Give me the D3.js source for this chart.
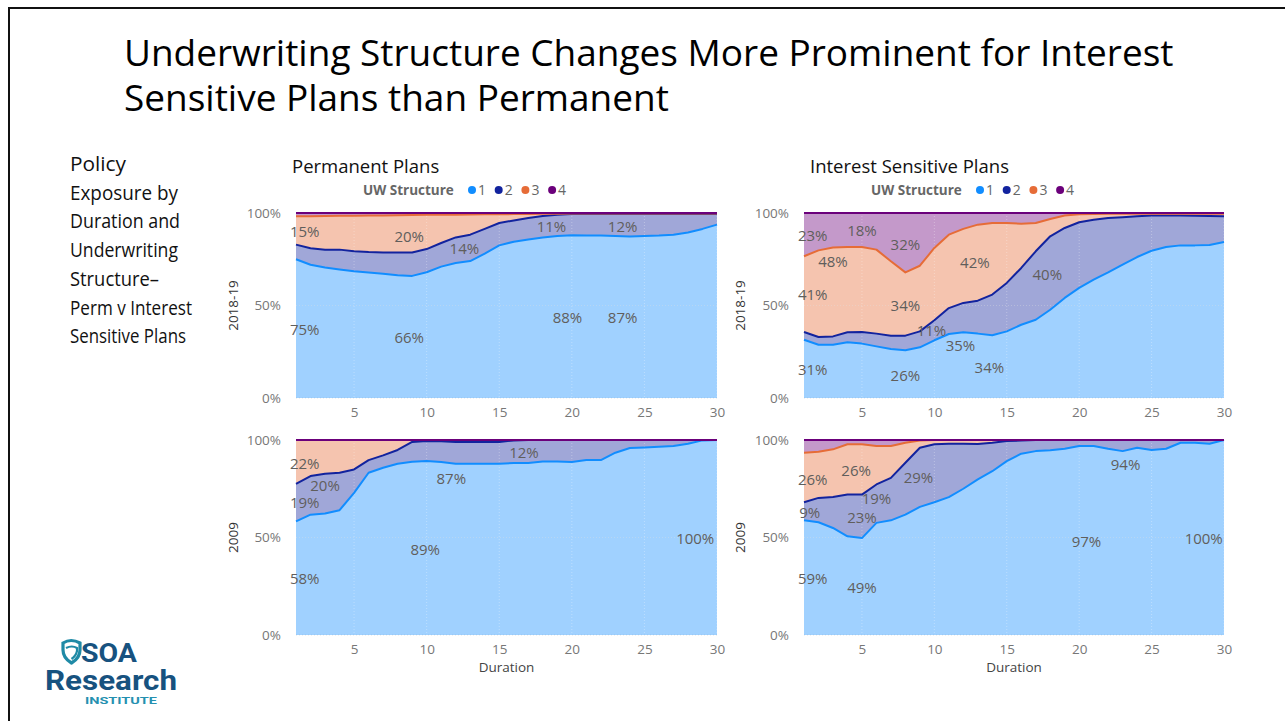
<!DOCTYPE html>
<html><head><meta charset="utf-8">
<script src="https://cdn.jsdelivr.net/npm/d3@7"></script>
<style>body{margin:0;background:#fff;overflow:hidden}svg{display:block}</style>
</head><body>
<svg id="c" width="1285" height="721"></svg>
<script>
// ---------- DATA ----------
const durations = [1,2,3,4,5,6,7,8,9,10,11,12,13,14,15,16,17,18,19,20,21,22,23,24,25,26,27,28,29,30];
const uwStructures = ["1","2","3","4"];
const seriesColors = ["#118DFF","#12239E","#E66C37","#6B007B"];
const yTicks = [0, 50, 100];
const xTicks = [5, 10, 15, 20, 25, 30];

// Permanent Plans 2018-19 (share % by UW structure)
const perm2018_s1 = [75,72,70.5,69.5,68.5,67.8,67.2,66.3,66,68,71,73,74,78,82.5,84.5,85.7,86.8,87.6,88,87.9,87.8,87.6,87.3,87.6,87.8,88.3,89.5,91.4,93.7];
const perm2018_s2 = [7.9,8.9,9.7,10.7,10.8,11.1,11.5,12.3,12.7,12.5,12.8,13.8,14.3,13.4,12.1,11.5,11.6,11.6,11.5,11.5,11.6,11.7,11.9,12.2,11.9,11.7,11.2,10.0,8.1,5.8];
const perm2018_s3 = [15.3,17.4,18.2,18.3,19.2,19.7,20.0,20.2,20.2,18.5,15.3,12.3,10.9,7.9,4.7,3.4,2.2,1.2,0.5,0.2,0.2,0.2,0.2,0.2,0.2,0.2,0.2,0.2,0.2,0.2];
const perm2018_s4 = [1.8,1.7,1.6,1.5,1.5,1.4,1.3,1.2,1.1,1.0,0.9,0.9,0.8,0.7,0.7,0.6,0.5,0.4,0.4,0.3,0.3,0.3,0.3,0.3,0.3,0.3,0.3,0.3,0.3,0.3];

// Interest Sensitive Plans 2018-19
const is2018_s1 = [31.5,28.8,28.8,30.1,29.4,27.9,26.5,25.8,27.4,31.2,34.6,35.5,34.8,33.9,36,39.6,42.3,47.7,54.1,59.5,64,67.9,72.1,76.2,79.6,81.6,82.5,82.5,82.7,84.3];
const is2018_s2 = [4.2,4.2,4.5,5.4,6.3,6.9,7.2,7.9,8.6,10.8,14,15.9,17.8,22,26.2,30.7,37,39.7,37.8,35.5,32.4,29.4,25.6,22,19,17,16.1,16,15.7,13.9];
const is2018_s3 = [40.9,46.8,48.1,46.1,45.9,45.4,40.2,34.2,35.5,39.1,39.7,40,41.1,38.7,32.4,23.9,15.3,9.4,6.7,4.3,3.1,2.3,1.9,1.4,1,1,1,1.1,1.2,1.4];
const is2018_s4 = [23.4,20.2,18.6,18.4,18.4,19.8,26.1,32.1,28.5,18.9,11.7,8.6,6.3,5.4,5.4,5.8,5.4,3.2,1.4,0.7,0.5,0.4,0.4,0.4,0.4,0.4,0.4,0.4,0.4,0.4];

// Permanent Plans 2009
const perm2009_s1 = [58.3,61.7,62.3,64,72.9,83.2,85.8,87.8,88.9,89.2,88.7,87.8,87.8,87.8,87.8,88.2,88.2,89,89,88.7,89.7,89.7,93.5,95.9,96.2,96.6,96.9,98.1,99.8,100];
const perm2009_s2 = [19.2,19.8,20.4,19.2,12,6.5,6.3,7.1,10.1,10.3,10.6,11.2,11.2,11.2,11.2,11.6,11.8,11,11,11.3,10.3,10.3,6.5,4.1,3.8,3.4,3.1,1.9,0.2,0];
const perm2009_s3 = [22.5,18.5,17.3,16.8,15.1,10.3,7.9,5.1,1,0.5,0.7,1,1,1,1,0.2,0,0,0,0,0,0,0,0,0,0,0,0,0,0];
const perm2009_s4 = [0,0,0,0,0,0,0,0,0,0,0,0,0,0,0,0,0,0,0,0,0,0,0,0,0,0,0,0,0,0];

// Interest Sensitive Plans 2009
const is2009_s1 = [58.8,57.8,54.9,50.6,49.7,57.5,58.8,61.7,65.7,68.1,70.7,75,79.8,84,89.2,93,94.3,94.7,95.5,96.9,96.9,95.5,94.3,96,94.9,95.5,98.6,98.6,98.1,100];
const is2009_s2 = [9.3,12.5,15.9,21.4,22.3,19.7,21.8,26.6,30.3,29.7,27.4,23.1,18.2,14.6,10.3,6.7,5.7,5.3,4.5,3.1,3.1,4.5,5.7,4,5.1,4.5,1.4,1.4,1.9,0];
const is2009_s3 = [25.4,23.7,24.4,25.8,25.8,19.7,16.3,10.3,3.7,2.2,1.9,1.9,2,1.4,0.5,0.3,0,0,0,0,0,0,0,0,0,0,0,0,0,0];
const is2009_s4 = [6.5,6,4.8,2.2,2.2,3.1,3.1,1.4,0.3,0,0,0,0,0,0,0,0,0,0,0,0,0,0,0,0,0,0,0,0,0];

// Data labels shown on each panel: [duration, value position, text]
const perm2018_labels = [[1.6,89.7,"15%"],[8.8,87,"20%"],[12.6,80.5,"14%"],[18.6,92.4,"11%"],[23.5,92.4,"12%"],[1.6,36.8,"75%"],[8.8,32.4,"66%"],[19.7,43.2,"88%"],[23.5,43.2,"87%"]];
const is2018_labels = [[1.6,87.6,"23%"],[5.0,90.3,"18%"],[8.0,82.7,"32%"],[3.0,73.5,"48%"],[12.8,73,"42%"],[17.8,66.5,"40%"],[1.6,55.7,"41%"],[8.0,49.7,"34%"],[9.8,36.2,"11%"],[11.8,28.1,"35%"],[13.8,16.2,"34%"],[1.6,15.1,"31%"],[8.0,11.9,"26%"]];
const perm2009_labels = [[1.6,88,"22%"],[3.0,76.4,"20%"],[1.6,67.8,"19%"],[11.7,80.3,"87%"],[16.7,93.7,"12%"],[9.9,43.7,"89%"],[1.6,28.8,"58%"],[28.5,49.4,"100%"]];
const is2009_labels = [[1.6,79.8,"26%"],[4.6,84.4,"26%"],[8.9,80.8,"29%"],[6.0,70,"19%"],[1.4,62.8,"9%"],[5.0,60.2,"23%"],[23.2,87.5,"94%"],[20.5,47.9,"97%"],[28.6,49.4,"100%"],[1.6,28.8,"59%"],[5.0,24.2,"49%"]];

const titleLines = ["Underwriting Structure Changes More Prominent for Interest","Sensitive Plans than Permanent"];
const sideText = ["Policy","Exposure by","Duration and","Underwriting","Structure\u2013","Perm v Interest","Sensitive Plans"];

// ---------- DRAW ----------
const svg = d3.select("#c");
svg.append("rect").attr("width",1285).attr("height",721).attr("fill","#fff");
// slide border
svg.append("path").attr("d","M9,730 L9,8 L1300,8").attr("fill","none").attr("stroke","#111").attr("stroke-width",2);

function fitFont(sel, target, start){
  sel.attr("font-size", start);
  const w = sel.node().getComputedTextLength();
  sel.attr("font-size", start*target/w);
}

const t1 = svg.append("text").attr("x",124).attr("y",66).attr("font-family","'Open Sans', sans-serif").attr("fill","#000").text(titleLines[0]);
fitFont(t1, 1050, 32);
const fs = +t1.attr("font-size");
svg.append("text").attr("x",124).attr("y",111).attr("font-family","'Open Sans', sans-serif").attr("font-size",fs).attr("fill","#000").text(titleLines[1]);

const sideW = [56,108,110,108,89,122,116];
sideText.forEach((s,i)=>{
  svg.append("text").attr("x",70).attr("y",171+i*28.7)
    .attr("font-family","'Liberation Sans Narrow','Open Sans',sans-serif").attr("font-size",19.5)
    .attr("fill","#111").attr("textLength",sideW[i]).attr("lengthAdjust","spacingAndGlyphs").text(s);
});

const panels = [
  {series:[perm2018_s1,perm2018_s2,perm2018_s3,perm2018_s4], labels:perm2018_labels, x0:296,x1:717,y0:398,y1:213, title:"Permanent Plans", tx:292, period:"2018-19", px:233, duration:false},
  {series:[is2018_s1,is2018_s2,is2018_s3,is2018_s4], labels:is2018_labels, x0:804,x1:1224,y0:398,y1:213, title:"Interest Sensitive Plans", tx:810, period:"2018-19", px:740, duration:false},
  {series:[perm2009_s1,perm2009_s2,perm2009_s3,perm2009_s4], labels:perm2009_labels, x0:296,x1:717,y0:635,y1:440, title:null, period:"2009", px:233, duration:true},
  {series:[is2009_s1,is2009_s2,is2009_s3,is2009_s4], labels:is2009_labels, x0:804,x1:1224,y0:635,y1:440, title:null, period:"2009", px:740, duration:true}
];

panels.forEach(p=>{
  const g = svg.append("g");
  const x = d3.scaleLinear().domain([1,30]).range([p.x0,p.x1]);
  const y = d3.scaleLinear().domain([0,100]).range([p.y0,p.y1]);
  const rows = durations.map((d,i)=>{const r={d}; uwStructures.forEach((k,j)=>r[k]=p.series[j][i]); return r;});
  const stacked = d3.stack().keys(uwStructures)(rows);
  const area = d3.area().x(d=>x(d.data.d)).y0(d=>y(d[0])).y1(d=>y(d[1]));
  const line = d3.line().x(d=>x(d.data.d)).y(d=>y(d[1]));

  g.selectAll(".hg").data(yTicks).join("line").attr("x1",p.x0).attr("x2",p.x1)
    .attr("y1",d=>y(d)).attr("y2",d=>y(d)).attr("stroke","#e4e4e4").attr("stroke-dasharray","1,2");

  g.selectAll(".ar").data(stacked).join("path").attr("d",area)
    .attr("fill",(d,i)=>seriesColors[i]).attr("fill-opacity",0.4);

  g.selectAll(".vg").data(xTicks).join("line").attr("x1",d=>x(d)).attr("x2",d=>x(d))
    .attr("y1",p.y1).attr("y2",p.y0).attr("stroke","#fff").attr("stroke-opacity",0.3).attr("stroke-dasharray","1,2");
  g.selectAll(".hg2").data([50]).join("line").attr("x1",p.x0).attr("x2",p.x1)
    .attr("y1",d=>y(d)).attr("y2",d=>y(d)).attr("stroke","#fff").attr("stroke-opacity",0.35).attr("stroke-dasharray","1,2");

  g.selectAll(".ln").data(stacked).join("path").attr("d",line).attr("fill","none")
    .attr("stroke",(d,i)=>seriesColors[i]).attr("stroke-width",2).attr("stroke-linejoin","round");

  const ya = g.append("g").attr("transform",`translate(${p.x0-15},0)`)
    .call(d3.axisLeft(y).tickValues(yTicks).tickFormat(d=>d+"%").tickSize(0).tickPadding(0));
  ya.select(".domain").remove();
  ya.selectAll("text").attr("font-family","'Open Sans',sans-serif").attr("font-size",13.5).attr("fill","#777");

  const xa = g.append("g").attr("transform",`translate(0,${p.y0})`)
    .call(d3.axisBottom(x).tickValues(xTicks).tickSize(0).tickPadding(9));
  xa.select(".domain").remove();
  xa.selectAll("text").attr("font-family","'Open Sans',sans-serif").attr("font-size",13.5).attr("fill","#777");

  if(p.duration){
    g.append("text").attr("x",(p.x0+p.x1)/2).attr("y",p.y0+37).attr("text-anchor","middle")
      .attr("font-family","'Open Sans',sans-serif").attr("font-size",13.5).attr("fill","#444").text("Duration");
  }

  g.append("text").attr("transform",`translate(${p.px+5},${(p.y0+p.y1)/2}) rotate(-90)`).attr("text-anchor","middle")
    .attr("font-family","'Open Sans',sans-serif").attr("font-size",13.5).attr("fill","#333").text(p.period);

  g.selectAll(".dl").data(p.labels).join("text")
    .attr("x",d=>x(d[0])).attr("y",d=>y(d[1])).attr("dy","0.35em").attr("text-anchor","middle")
    .attr("font-family","'Open Sans',sans-serif").attr("font-size",15).attr("fill","#605e5c").text(d=>d[2]);

  if(p.title){
    g.append("text").attr("x",p.tx).attr("y",173).attr("font-family","'Open Sans',sans-serif")
      .attr("font-size",18.5).attr("fill","#111").text(p.title);
    const lx = p.x0+67, ly = 190;
    g.append("text").attr("x",lx).attr("y",ly).attr("dy","0.35em").attr("font-family","'Open Sans',sans-serif")
      .attr("font-weight","bold").attr("font-size",13.5).attr("fill","#666").text("UW Structure");
    uwStructures.forEach((k,i)=>{
      const cx = lx+109+i*26.7;
      g.append("circle").attr("cx",cx).attr("cy",ly).attr("r",4).attr("fill",seriesColors[i]);
      g.append("text").attr("x",cx+6).attr("y",ly).attr("dy","0.35em").attr("font-family","'Open Sans',sans-serif")
        .attr("font-size",14).attr("fill","#666").text(k);
    });
  }
});

// SOA logo
const logo = svg.append("g");
logo.append("path").attr("d","M63,643 Q71,638 80,643 L80,650 Q80,658 71.5,663 Q63,658 63,650 Z")
  .attr("fill","none").attr("stroke","#1f8aa6").attr("stroke-width",3.2);
logo.append("path").attr("d","M66,648 Q72,645 77,648 L77,651 Q76,656 71.5,659")
  .attr("fill","none").attr("stroke","#1f8aa6").attr("stroke-width",2.2);
logo.append("text").attr("x",81).attr("y",662).attr("font-family","Roboto,'Open Sans',sans-serif").attr("font-weight","bold")
  .attr("font-size",26).attr("fill","#17527f").attr("textLength",56).attr("lengthAdjust","spacingAndGlyphs").text("SOA");
logo.append("text").attr("x",45).attr("y",690).attr("font-family","Roboto,'Open Sans',sans-serif").attr("font-weight","bold")
  .attr("font-size",28).attr("fill","#17527f").attr("textLength",132).attr("lengthAdjust","spacingAndGlyphs").text("Research");
logo.append("text").attr("x",85).attr("y",704).attr("font-family","Roboto,'Open Sans',sans-serif").attr("font-weight","bold")
  .attr("font-size",9).attr("fill","#2590b0").attr("textLength",72).attr("lengthAdjust","spacingAndGlyphs").text("INSTITUTE");
</script>
</body></html>
